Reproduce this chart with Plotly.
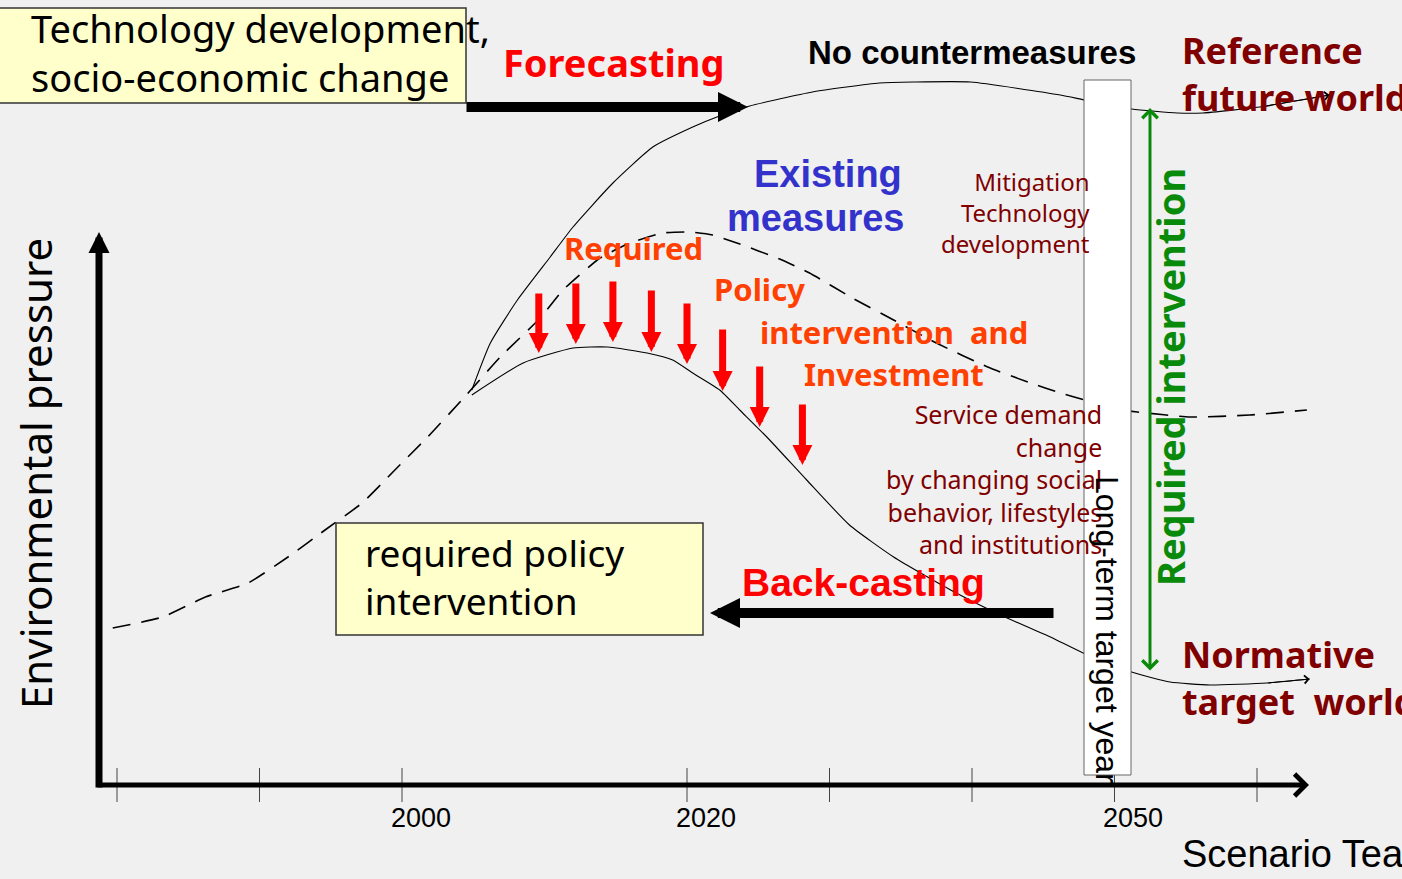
import plotly.graph_objects as go

# ---------------- data ----------------
tick_years = [1980, 1990, 2000, 2020, 2030, 2040, 2050, 2060]
label_years = [2000, 2020, 2050]
label_texts = ["2000", "2020", "2050"]

# "No countermeasures" -> reference future world
ref_years = [2004.9, 2006.2, 2008.1, 2010.4, 2012.0, 2014.8, 2017.6, 2020.4, 2022.1,
             2024.4, 2028.8, 2033.5, 2035.9, 2039.9, 2046.2, 2047.9, 2051.2, 2054.4,
             2056.2, 2060.2, 2065.1]
ref_vals = [395, 442, 485, 528, 558, 602, 638, 658, 668, 679, 693, 702, 703, 703,
            690, 685, 676, 672, 672, 678, 690]

# "Existing measures" (dashed)
exist_years = [1979.7, 1983.2, 1986.2, 1989.2, 1992.0, 1994.6, 1997.2, 1999.5, 2001.8,
               2004.2, 2006.9, 2009.7, 2011.3, 2013.9, 2016.0, 2018.3, 2020.2, 2021.8,
               2023.5, 2026.5, 2028.6, 2031.6, 2034.5, 2037.5, 2041.1, 2044.1, 2046.2,
               2047.9, 2049.7, 2051.6, 2055.3, 2059.5, 2063.5]
exist_vals = [157, 168, 188, 202, 228, 255, 282, 315, 348, 385, 428, 467, 495, 527,
              542, 552, 553, 550, 542, 526, 512, 487, 465, 442, 418, 402, 392, 385,
              377, 373, 368, 370, 375]

# Normative target world path
norm_years = [2004.9, 2008.5, 2012.0, 2014.4, 2017.2, 2019.0, 2020.4, 2022.3, 2023.7,
              2025.6, 2028.4, 2031.4, 2034.5, 2038.5, 2042.0, 2045.5, 2047.8, 2051.2,
              2053.9, 2056.7, 2060.7, 2063.7]
norm_vals = [390, 422, 437, 438, 432, 425, 412, 395, 375, 348, 305, 260, 228, 195,
             170, 148, 132, 113, 103, 100, 102, 106]

# Required policy intervention arrows
arrow_years = [2009.6, 2012.2, 2014.8, 2017.5, 2020.0, 2022.5, 2025.1, 2028.1]
arrow_top = [493, 503, 505, 496, 483, 457, 420, 382]
arrow_tip = [432, 441, 443, 433, 421, 394, 358, 320]

# ---------------- page geometry ----------------
W, H = 1402, 879
PX_PER_YEAR = 14.25
X_REF_PX = 402     # pixel column of year 2000
Y_ZERO_PX = 785    # pixel row of the time axis


def yr(px):
    return 2000 + (px - X_REF_PX) / PX_PER_YEAR


def val(py):
    return Y_ZERO_PX - py


XR = [yr(0), yr(W)]
YR = [val(H), val(0)]

BG = "#f0f0f0"
COMIC = "Comic Sans MS, Noto Sans, sans-serif"
ARIAL = "Arial, Liberation Sans, sans-serif"
DARKRED = "#800000"
ORANGE = "#ff4000"
GREEN = "#0a8a0a"

fig = go.Figure()

fig.add_trace(go.Scatter(x=exist_years, y=exist_vals, mode="lines",
                         line=dict(color="black", width=1.6, dash="18px,11px",
                                   shape="spline", smoothing=0.5),
                         hoverinfo="skip"))
fig.add_trace(go.Scatter(x=ref_years, y=ref_vals, mode="lines",
                         line=dict(color="black", width=1.1, shape="spline", smoothing=0.5),
                         hoverinfo="skip"))
fig.add_trace(go.Scatter(x=norm_years, y=norm_vals, mode="lines",
                         line=dict(color="black", width=1.1, shape="spline", smoothing=0.5),
                         hoverinfo="skip"))

# tick marks on the time axis
tx, ty = [], []
for t in tick_years:
    tx += [t, t, None]
    ty += [17, -17, None]
fig.add_trace(go.Scatter(x=tx, y=ty, mode="lines",
                         line=dict(color="#444", width=1), hoverinfo="skip"))

shapes = [
    dict(type="rect", xref="x", yref="y", x0=yr(-5), x1=yr(466), y0=val(103), y1=val(8),
         fillcolor="#ffffcc", line=dict(color="#333", width=1.5), layer="above"),
    dict(type="rect", xref="x", yref="y", x0=yr(336), x1=yr(703), y0=val(635), y1=val(523),
         fillcolor="#ffffcc", line=dict(color="#333", width=1.5), layer="above"),
    dict(type="rect", xref="x", yref="y", x0=yr(1084), x1=yr(1131), y0=val(775), y1=val(80),
         fillcolor="white", line=dict(color="#666", width=1), layer="above"),
]

ann = []


def arrow(xt, yt, xs, ys, color, width, head, size, **kw):
    d = dict(x=xt, y=yt, ax=xs, ay=ys, xref="x", yref="y", axref="x", ayref="y",
             text="", showarrow=True, arrowhead=head, arrowsize=size,
             arrowwidth=width, arrowcolor=color)
    d.update(kw)
    ann.append(d)


# axes
arrow(yr(99), val(232), yr(99), val(789), "black", 7, 2, 0.6)
arrow(yr(1309), 0, yr(96), 0, "black", 5, 4, 0.85)
# forecasting / back-casting arrows
arrow(yr(748), val(107), yr(465), val(107), "black", 10, 2, 0.6)
arrow(yr(710), val(613), yr(1055), val(613), "black", 10, 2, 0.6)
# required intervention (double headed)
arrow(yr(1150), val(108), yr(1150), val(672), GREEN, 3, 4, 1,
      arrowside="end+start", startarrowhead=4, startarrowsize=1)
# red policy arrows
for xa, top, tip in zip(arrow_years, arrow_top, arrow_tip):
    arrow(xa, tip, xa, top, "#ff0000", 7, 2, 0.57)
# curve end heads
arrow(ref_years[-1], ref_vals[-1], ref_years[-2], ref_vals[-2], "black", 1, 4, 1.6)
arrow(norm_years[-1], norm_vals[-1], norm_years[-2], norm_vals[-2], "black", 1, 4, 1.6)


def txt(s, px, py, size, color="black", family=COMIC, bold=False, anchor="left", angle=0):
    if bold:
        s = "<br>".join("<b>%s</b>" % part for part in s.split("<br>"))
    ann.append(dict(x=yr(px), y=val(py), xref="x", yref="y", text=s,
                    showarrow=False, xanchor=anchor, yanchor="middle", textangle=angle,
                    align=anchor if anchor in ("left", "right") else "center",
                    font=dict(family=family, size=size, color=color)))


txt("Technology development,<br>socio-economic change", 29, 52, 38)
txt("Forecasting", 501, 62, 38, "#ff0000", bold=True)
txt("No countermeasures", 806, 52, 33, "black", ARIAL, True)
txt("Reference<br>future world", 1180, 74, 36, DARKRED, bold=True)
txt("Existing", 904, 174, 38, "#3333cc", ARIAL, True, "right")
txt("measures", 906, 218, 38, "#3333cc", ARIAL, True, "right")
txt("Mitigation<br>Technology<br>development", 1092, 212, 24, DARKRED, anchor="right")
txt("Required", 562, 248, 31, ORANGE, bold=True)
txt("Policy", 712, 289, 31, ORANGE, bold=True)
txt("intervention  and", 758, 332, 31, ORANGE, bold=True)
txt("Investment", 802, 374, 31, ORANGE, bold=True)
txt("Service demand<br>change<br>by changing social<br>behavior, lifestyles<br>and institutions",
    1104, 479, 25, DARKRED, anchor="right")
txt("Back-casting", 740, 582, 39, "#ff0000", ARIAL, True)
txt("required policy<br>intervention", 363, 576, 37)
txt("Normative<br>target  world", 1180, 678, 36, DARKRED, bold=True)
txt("Scenario Tea", 1180, 854, 38, "black", ARIAL)
txt("Environmental pressure", 35, 474, 42, anchor="center", angle=-90)
txt("Long-term target year", 1107, 630, 32, "black", ARIAL, anchor="center", angle=90)
txt("Required intervention", 1170, 377, 38, GREEN, bold=True, anchor="center", angle=-90)

for y_, s in zip(label_years, label_texts):
    ann.append(dict(x=y_ + 1.3, y=val(818), xref="x", yref="y", text=s, showarrow=False,
                    xanchor="center", yanchor="middle",
                    font=dict(family=ARIAL, size=27, color="black")))

fig.update_layout(
    width=W, height=H, margin=dict(l=0, r=0, t=0, b=0, pad=0),
    paper_bgcolor=BG, plot_bgcolor=BG, showlegend=False,
    xaxis=dict(visible=False, range=XR, fixedrange=True),
    yaxis=dict(visible=False, range=YR, fixedrange=True),
    shapes=shapes, annotations=ann,
)

fig.write_html("out.html", config={"displayModeBar": False},
               post_script="document.body.style.margin='0';document.body.style.overflow='hidden';")
